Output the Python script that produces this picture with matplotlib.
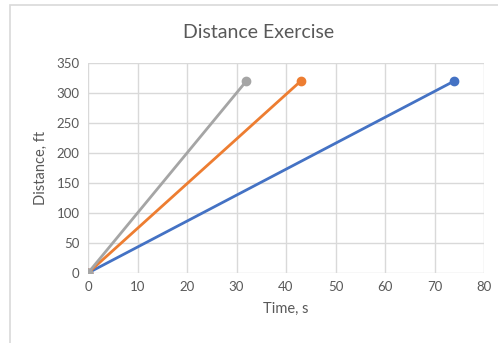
import matplotlib.pyplot as plt
from matplotlib.patches import Rectangle

# time (s) and distance (ft) for each run
gray_t = [0, 32]
gray_d = [0, 320]
orange_t = [0, 43]
orange_d = [0, 320]
blue_t = [0, 74]
blue_d = [0, 320]

plt.rcParams['font.family'] = ['Lato', 'DejaVu Sans']
txt = '#595959'

fig = plt.figure(figsize=(4.98, 3.43), dpi=100)
ax = fig.add_axes([88 / 498, 1 - 273 / 343, 396 / 498, 210 / 343])

# chart frame like the Excel chart area
fig.patches.append(Rectangle((10 / 498, -0.01), 1.0, 1 - 5 / 343 + 0.01,
                             transform=fig.transFigure, fill=False,
                             edgecolor='#d9d9d9', lw=1.2))

ax.plot(blue_t, blue_d, c='#4472c4', lw=2, marker='o', ms=6, zorder=3)
ax.plot(orange_t, orange_d, c='#ed7d31', lw=2, marker='o', ms=6, zorder=3)
ax.plot(gray_t, gray_d, c='#a5a5a5', lw=2, marker='o', ms=6, zorder=3)

ax.set_xlim(0, 80)
ax.set_ylim(0, 350)
ax.set_xticks(range(0, 81, 10))
ax.set_yticks(range(0, 351, 50))
ax.grid(True, color='#d9d9d9', lw=1)
ax.set_axisbelow(True)
for s in ax.spines.values():
    s.set_visible(False)
ax.tick_params(length=0, colors=txt, labelsize=9.5, pad=6)

# title is centred on the chart area, not the plot area
fig.text(259 / 498, 1 - 33 / 343, "Distance Exercise", fontsize=14,
         color=txt, ha='center', va='center')
ax.set_xlabel("Time, s", fontsize=10.5, color=txt, labelpad=6)
ax.set_ylabel("Distance, ft", fontsize=10.5, color=txt, labelpad=6)

fig.savefig("out.png", dpi=100)
